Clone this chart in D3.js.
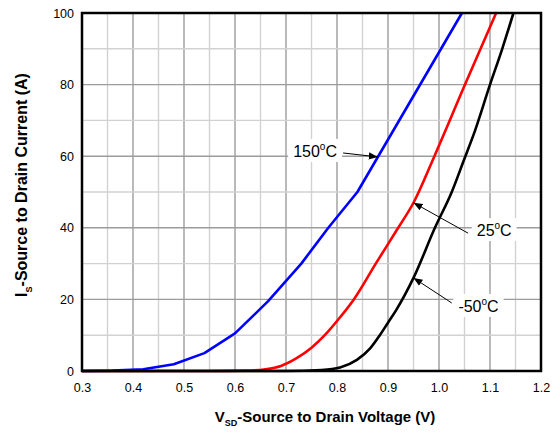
<!DOCTYPE html>
<html>
<head>
<meta charset="utf-8">
<script src="https://cdn.jsdelivr.net/npm/d3@7/dist/d3.min.js"></script>
<style>
  html, body { margin: 0; padding: 0; background: #fff; }
  svg { display: block; font-family: "Liberation Sans", Arial, sans-serif; }
</style>
</head>
<body>
<svg id="chart" width="558" height="434"></svg>
<script>
// Source-drain diode forward characteristic: V_SD (V) vs I_S (A)
const xTicks = [0.3, 0.4, 0.5, 0.6, 0.7, 0.8, 0.9, 1.0, 1.1, 1.2];
const yTicks = [0, 20, 40, 60, 80, 100];

// 150 °C
const v150 = [0.30, 0.36, 0.42, 0.48, 0.54, 0.60, 0.665, 0.73, 0.783, 0.84, 1.045];
const i150 = [0.0, 0.1, 0.5, 1.9, 5.0, 10.5, 19.5, 30.0, 40.0, 50.0, 100.0];

// 25 °C
const v25 = [0.30, 0.55, 0.62, 0.66, 0.69, 0.72, 0.75, 0.776, 0.806, 0.833, 0.876, 0.92, 0.95, 0.991, 1.051, 1.112];
const i25 = [0.0, 0.0, 0.1, 0.5, 1.4, 3.5, 6.5, 10.0, 15.0, 20.0, 30.0, 40.0, 47.0, 60.0, 80.0, 100.0];

// -50 °C
const vM50 = [0.30, 0.70, 0.77, 0.806, 0.839, 0.865, 0.884, 0.90, 0.916, 0.95, 0.992, 1.025, 1.048, 1.071, 1.10, 1.124, 1.146];
const iM50 = [0.0, 0.0, 0.3, 1.0, 3.1, 6.3, 10.0, 13.5, 17.0, 26.0, 40.0, 50.0, 58.6, 67.3, 80.0, 90.0, 100.0];

const seriesNames = ["150", "25", "-50"];
const seriesColors = ["#0000ff", "#ff0000", "#000000"];

// Callout labels: text anchor (V, A), arrow start (V, A), arrow tip on the curve (V, A)
const labelText   = ["150", "25", "-50"];
const labelPos    = [[0.714, 59.8], [1.074, 37.7], [1.038, 16.5]];
const arrowFrom   = [[0.812, 60.9], [1.057, 38.5], [1.025, 19.0]];
const arrowTo     = [[0.880, 59.8], [0.950, 47.0], [0.950, 26.0]];

const margin = { left: 82, top: 13, right: 17, bottom: 63 };
const W = 558, H = 434;
const svg = d3.select("#chart");

const x = d3.scaleLinear().domain([0.3, 1.2]).range([margin.left, W - margin.right]);
const y = d3.scaleLinear().domain([0, 100]).range([H - margin.bottom, margin.top]);

// grid
const g = svg.append("g");
const vGrid = d3.range(0.35, 1.2, 0.05).map(v => +v.toFixed(2));
const hGrid = d3.range(10, 100, 10);
g.selectAll("line.vg").data(vGrid).join("line")
  .attr("x1", d => x(d)).attr("x2", d => x(d))
  .attr("y1", y(0)).attr("y2", y(100))
  .attr("stroke", d => Math.abs(d * 10 - Math.round(d * 10)) < 1e-6 ? "#9c9c9c" : "#d2d2d2")
  .attr("stroke-width", 1.4);
g.selectAll("line.hg").data(hGrid).join("line")
  .attr("x1", x(0.3)).attr("x2", x(1.2))
  .attr("y1", d => y(d)).attr("y2", d => y(d))
  .attr("stroke", d => d % 20 === 0 ? "#9c9c9c" : "#d2d2d2")
  .attr("stroke-width", 1.4);

// axes (labels only)
const xAxis = d3.axisBottom(x).tickValues(xTicks).tickFormat(d3.format(".1f")).tickSize(0).tickPadding(12);
const yAxis = d3.axisLeft(y).tickValues(yTicks).tickFormat(d3.format("d")).tickSize(0).tickPadding(8);
const gx = svg.append("g").attr("transform", `translate(0,${y(0)})`).call(xAxis);
const gy = svg.append("g").attr("transform", `translate(${x(0.3)},0)`).call(yAxis);
[gx, gy].forEach(a => {
  a.select(".domain").remove();
  a.selectAll("text").attr("font-size", 12.5).attr("fill", "#000")
    .attr("font-family", '"Liberation Sans", Arial, sans-serif');
});

// curves
const series = [
  { v: v150, i: i150, curve: d3.curveLinear },
  { v: v25, i: i25, curve: d3.curveMonotoneX },
  { v: vM50, i: iM50, curve: d3.curveMonotoneX }
];
series.forEach((s, k) => {
  const pts = s.v.map((v, j) => [v, s.i[j]]);
  const line = d3.line().x(d => x(d[0])).y(d => y(d[1])).curve(s.curve);
  svg.append("path").datum(pts)
    .attr("d", line)
    .attr("fill", "none")
    .attr("stroke", seriesColors[k])
    .attr("stroke-width", 2.6)
    .attr("stroke-linejoin", "round");
});

// plot frame
svg.append("rect")
  .attr("x", x(0.3)).attr("y", y(100))
  .attr("width", x(1.2) - x(0.3)).attr("height", y(0) - y(100))
  .attr("fill", "none").attr("stroke", "#000").attr("stroke-width", 2.5);

// callouts
svg.append("defs").append("marker")
  .attr("id", "ah").attr("viewBox", "0 0 10 10")
  .attr("refX", 10).attr("refY", 5)
  .attr("markerWidth", 9).attr("markerHeight", 9)
  .attr("markerUnits", "userSpaceOnUse")
  .attr("orient", "auto")
  .append("path").attr("d", "M0,1 L10,5 L0,9 Z").attr("fill", "#000");

labelText.forEach((t, k) => {
  const tx = x(labelPos[k][0]), ty = y(labelPos[k][1]);
  const txt = svg.append("text")
    .attr("x", tx).attr("y", ty)
    .attr("font-size", 16).attr("fill", "#000");
  txt.append("tspan").text(t);
  txt.append("tspan").attr("font-size", 10).attr("dy", -7).text("o");
  txt.append("tspan").attr("dy", 7).text("C");
  const bb = txt.node().getBBox();
  svg.insert("rect", () => txt.node())
    .attr("x", bb.x - 5).attr("y", bb.y - 2)
    .attr("width", bb.width + 10).attr("height", bb.height + 4)
    .attr("fill", "#fff");
  svg.append("line")
    .attr("x1", x(arrowFrom[k][0])).attr("y1", y(arrowFrom[k][1]))
    .attr("x2", x(arrowTo[k][0])).attr("y2", y(arrowTo[k][1]))
    .attr("stroke", "#000").attr("stroke-width", 1)
    .attr("marker-end", "url(#ah)");
});

// axis titles
const xt = svg.append("text")
  .attr("x", 325).attr("y", 422)
  .attr("text-anchor", "middle")
  .attr("font-size", 15).attr("font-weight", "bold");
xt.append("tspan").text("V");
xt.append("tspan").attr("font-size", 9).attr("dy", 4).text("SD");
xt.append("tspan").attr("dy", -4).text("-Source to Drain Voltage (V)");

const yt = svg.append("text")
  .attr("transform", `translate(27,${185}) rotate(-90)`)
  .attr("text-anchor", "middle")
  .attr("font-size", 16).attr("font-weight", "bold");
yt.append("tspan").text("I");
yt.append("tspan").attr("font-size", 9).attr("dy", 5).text("S");
yt.append("tspan").attr("dy", -5).text("-Source to Drain Current (A)");
</script>
</body>
</html>
